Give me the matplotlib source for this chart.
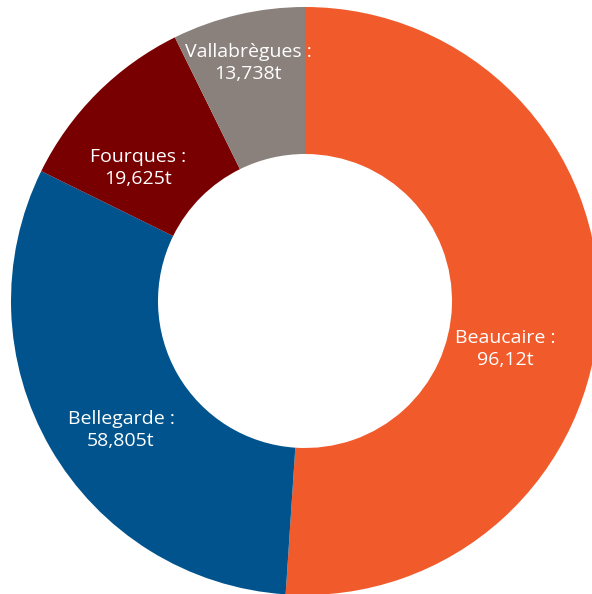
import matplotlib.pyplot as plt

communes = ["Beaucaire", "Bellegarde", "Fourques", "Vallabrègues"]
tonnes = [96.12, 58.805, 19.625, 13.738]
value_labels = ["96,12t", "58,805t", "19,625t", "13,738t"]
colors = ["#F15A2B", "#00538C", "#790000", "#8A807C"]

# where each label sits (data units, pie radius = 1)
label_pos = [(0.68, -0.163), (-0.626, -0.44), (-0.568, 0.452), (-0.194, 0.81)]

plt.rcParams["font.family"] = ["Open Sans", "DejaVu Sans"]

fig = plt.figure(figsize=(5.92, 5.94), dpi=100)
ax = fig.add_axes([0, 0, 1, 1])

ax.pie(tonnes, colors=colors, startangle=90, counterclock=False,
       radius=1.0, wedgeprops=dict(width=0.5, linewidth=0))

for name, val, (x, y) in zip(communes, value_labels, label_pos):
    ax.text(x, y, f"{name} :\n{val}", color="white", fontsize=14,
            ha="center", va="center", linespacing=1.3)

ax.set_xlim(-305 / 294, 287 / 294)
ax.set_ylim(-293 / 294, 301 / 294)
ax.set_aspect("auto")
ax.axis("off")

fig.savefig("out.png", dpi=100)
